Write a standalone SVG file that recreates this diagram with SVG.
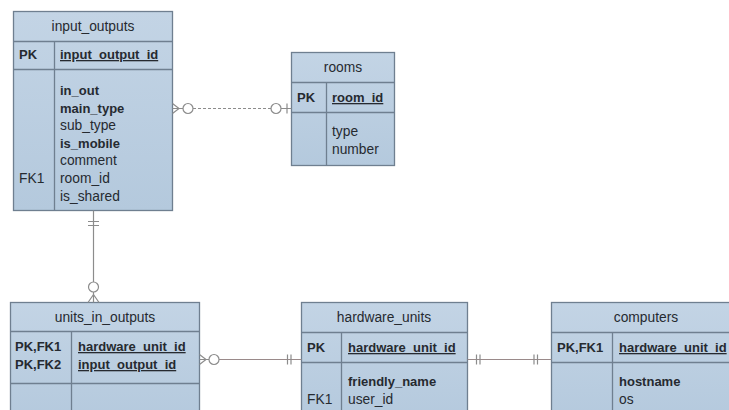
<svg xmlns="http://www.w3.org/2000/svg" width="729" height="410" viewBox="0 0 729 410">
<defs>
<linearGradient id="g" x1="0" y1="0" x2="0" y2="1">
<stop offset="0" stop-color="#c3d4e5"/>
<stop offset="1" stop-color="#b4c9dd"/>
</linearGradient>
</defs>
<style>
.box{fill:url(#g);stroke:#6f7f90;stroke-width:1.3}
.sep{stroke:#6f7f90;stroke-width:1.3;fill:none}
text{font-family:"Liberation Sans",Arial,sans-serif;font-size:13.8px;fill:#262a30}
.t{text-anchor:middle}
.b{font-weight:bold;font-size:13px}
.u{text-decoration:underline}
.c{stroke:#8c8c8c;stroke-width:1.2;fill:none}
.cb{stroke:#9a8a8a;stroke-width:1.2;fill:none}
.d{stroke-dasharray:3 2}
.o{fill:#fff;stroke:#8c8c8c;stroke-width:1.2}
</style>
<rect width="729" height="410" fill="#fff"/>

<g id="input_outputs">
<rect class="box" x="13.5" y="11.5" width="159" height="199"/>
<path class="sep" d="M13.5 41.5H172.5M13.5 69.5H172.5M54.5 41.5V210.5"/>
<text class="t" x="93" y="31">input_outputs</text>
<text class="b" x="19" y="59">PK</text>
<text class="b u" x="60" y="59">input_output_id</text>
<text class="b" x="60" y="95">in_out</text>
<text class="b" x="60" y="112.6">main_type</text>
<text x="60" y="130.2">sub_type</text>
<text class="b" x="60" y="147.8">is_mobile</text>
<text x="60" y="165.4">comment</text>
<text x="19" y="183">FK1</text>
<text x="60" y="183">room_id</text>
<text x="60" y="200.6">is_shared</text>
</g>

<g id="rooms">
<rect class="box" x="291.5" y="52.5" width="103" height="113"/>
<path class="sep" d="M291.5 82.5H394.5M291.5 112.5H394.5M326.5 82.5V165.5"/>
<text class="t" x="343" y="72">rooms</text>
<text class="b" x="297" y="102">PK</text>
<text class="b u" x="332" y="102">room_id</text>
<text x="332" y="136">type</text>
<text x="332" y="153.5">number</text>
</g>

<g id="units_in_outputs">
<rect class="box" x="10.5" y="302.5" width="189" height="120"/>
<path class="sep" d="M10.5 331.5H199.5M10.5 383.5H199.5M71.5 331.5V422"/>
<text class="t" x="105" y="322">units_in_outputs</text>
<text class="b" x="15" y="351">PK,FK1</text>
<text class="b" x="15" y="369">PK,FK2</text>
<text class="b u" x="78" y="351">hardware_unit_id</text>
<text class="b u" x="78" y="369">input_output_id</text>
</g>

<g id="hardware_units">
<rect class="box" x="301.5" y="302.5" width="166" height="120"/>
<path class="sep" d="M301.5 332.5H467.5M301.5 362.5H467.5M341.5 332.5V422"/>
<text class="t" x="384" y="322">hardware_units</text>
<text class="b" x="307" y="352">PK</text>
<text class="b u" x="348" y="352">hardware_unit_id</text>
<text class="b" x="348" y="386">friendly_name</text>
<text x="307" y="403.5">FK1</text>
<text x="348" y="403.5">user_id</text>
</g>

<g id="computers">
<rect class="box" x="551.5" y="302.5" width="190" height="120"/>
<path class="sep" d="M551.5 332.5H741M551.5 362.5H741M612.5 332.5V422"/>
<text class="t" x="646" y="322">computers</text>
<text class="b" x="557" y="352">PK,FK1</text>
<text class="b u" x="619" y="352">hardware_unit_id</text>
<text class="b" x="619" y="386">hostname</text>
<text x="619" y="403.5">os</text>
</g>

<g id="connectors">
<!-- input_outputs - rooms -->
<path class="c d" d="M183 108.5H271"/>
<path class="c" d="M172.5 103.5L179 108.5L172.5 113.5M172.5 108.5H183"/>
<circle class="o" cx="188" cy="108.5" r="5"/>
<circle class="o" cx="276" cy="108.5" r="5"/>
<path class="c" d="M281 108.5H291.5M287 103.5V113.5"/>
<!-- input_outputs - units_in_outputs -->
<path class="c" d="M93.5 210.5V282"/>
<path class="c" d="M88 221.5H99M88 225.5H99"/>
<circle class="o" cx="93.5" cy="287" r="5"/>
<path class="c" d="M93.5 292V302.5M93.5 294.5L88 302.5M93.5 294.5L99 302.5"/>
<!-- units_in_outputs - hardware_units -->
<path class="cb" d="M219 359.5H301.5"/>
<path class="c" d="M199.5 354.5L206 359.5L199.5 364.5M199.5 359.5H209"/>
<circle class="o" cx="214" cy="359.5" r="5"/>
<path class="c" d="M287.5 354.5V364.5M291 354.5V364.5"/>
<!-- hardware_units - computers -->
<path class="cb" d="M467.5 359.5H551.5"/>
<path class="c" d="M476.5 354.5V364.5M480 354.5V364.5M534 354.5V364.5M537.5 354.5V364.5"/>
</g>
</svg>
